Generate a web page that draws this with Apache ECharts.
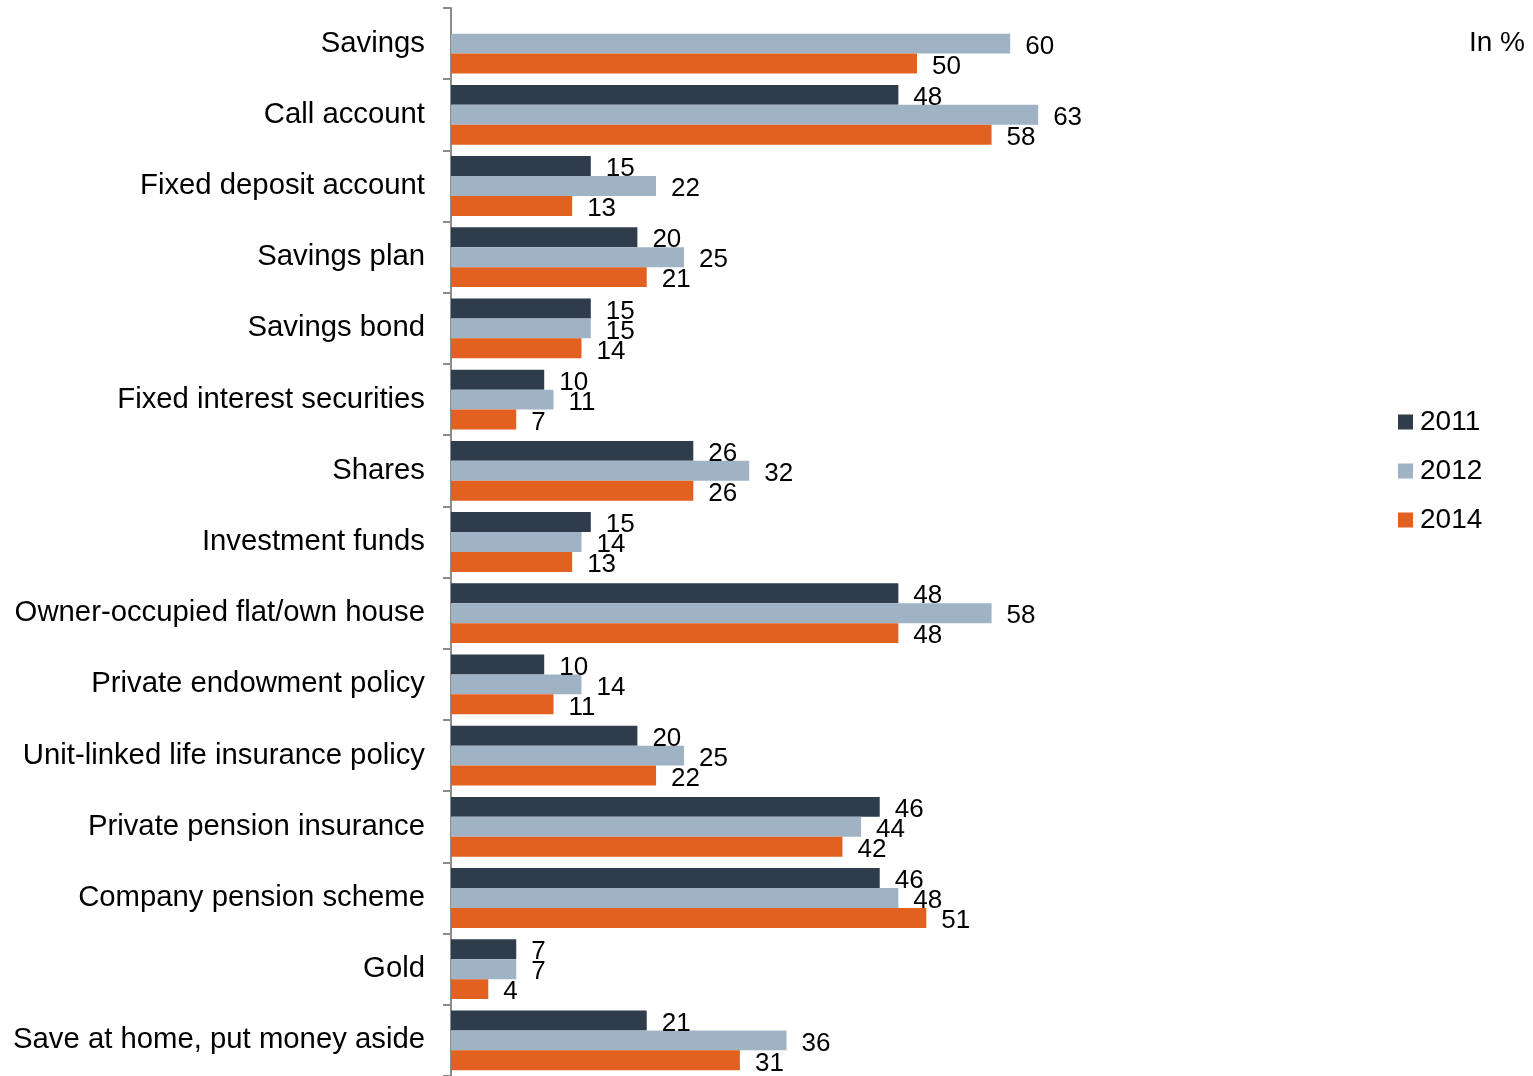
<!DOCTYPE html>
<html>
<head>
<meta charset="utf-8">
<style>
  html, body { margin: 0; padding: 0; background: #ffffff; }
  #chart { width: 1533px; height: 1076px; }
</style>
<script src="https://cdn.jsdelivr.net/npm/echarts@6/dist/echarts.min.js"></script>
</head>
<body>
<div id="chart"></div>
<script>
// Forms of saving and investment, share of respondents in %
const categories = [
  'Savings',
  'Call account',
  'Fixed deposit account',
  'Savings plan',
  'Savings bond',
  'Fixed interest securities',
  'Shares',
  'Investment funds',
  'Owner-occupied flat/own house',
  'Private endowment policy',
  'Unit-linked life insurance policy',
  'Private pension insurance',
  'Company pension scheme',
  'Gold',
  'Save at home, put money aside'
];
const years = ['2011', '2012', '2014'];
const values2011 = [null, 48, 15, 20, 15, 10, 26, 15, 48, 10, 20, 46, 46, 7, 21];
const values2012 = [60, 63, 22, 25, 15, 11, 32, 14, 58, 14, 25, 44, 48, 7, 36];
const values2014 = [50, 58, 13, 21, 14, 7, 26, 13, 48, 11, 22, 42, 51, 4, 31];

const colors = ['#2f3c4c', '#a0b3c4', '#e26020'];
const FONT = '"Liberation Sans", Arial, Helvetica, sans-serif';

const chart = echarts.init(document.getElementById('chart'), null, { renderer: 'canvas' });

function barSeries(name, data, color) {
  return {
    name: name,
    type: 'bar',
    data: data,
    barGap: '0%',
    barCategoryGap: '16%',
    itemStyle: { color: color },
    label: {
      show: true,
      position: 'right',
      distance: 15,
      offset: [0, 3],
      color: '#000000',
      fontSize: 26,
      fontFamily: FONT
    },
    emphasis: { disabled: true }
  };
}

chart.setOption({
  animation: false,
  backgroundColor: '#ffffff',
  title: {
    text: 'In %',
    right: 8,
    top: 29,
    padding: 0,
    textStyle: { fontSize: 28, fontWeight: 'normal', color: '#000000', fontFamily: FONT }
  },
  legend: {
    data: years,
    orient: 'vertical',
    left: 1398,
    top: 408,
    padding: 0,
    itemWidth: 15,
    itemHeight: 15,
    itemGap: 21,
    icon: 'rect',
    textStyle: { fontSize: 28, color: '#000000', fontFamily: FONT, padding: [0, 0, 0, 2] }
  },
  grid: { left: 451, right: 150, top: 8, bottom: 0, containLabel: false },
  xAxis: {
    type: 'value',
    min: 0,
    max: 100,
    show: false,
    splitLine: { show: false }
  },
  yAxis: {
    type: 'category',
    data: categories,
    inverse: true,
    axisLine: { show: true, lineStyle: { color: '#8c8c8c', width: 2 } },
    axisTick: { show: true, length: 8, lineStyle: { color: '#8c8c8c', width: 2 } },
    axisLabel: { color: '#000000', fontSize: 29.3, fontFamily: FONT, margin: 26 }
  },
  series: [
    barSeries(years[0], values2011, colors[0]),
    barSeries(years[1], values2012, colors[1]),
    barSeries(years[2], values2014, colors[2])
  ]
});
</script>
</body>
</html>
